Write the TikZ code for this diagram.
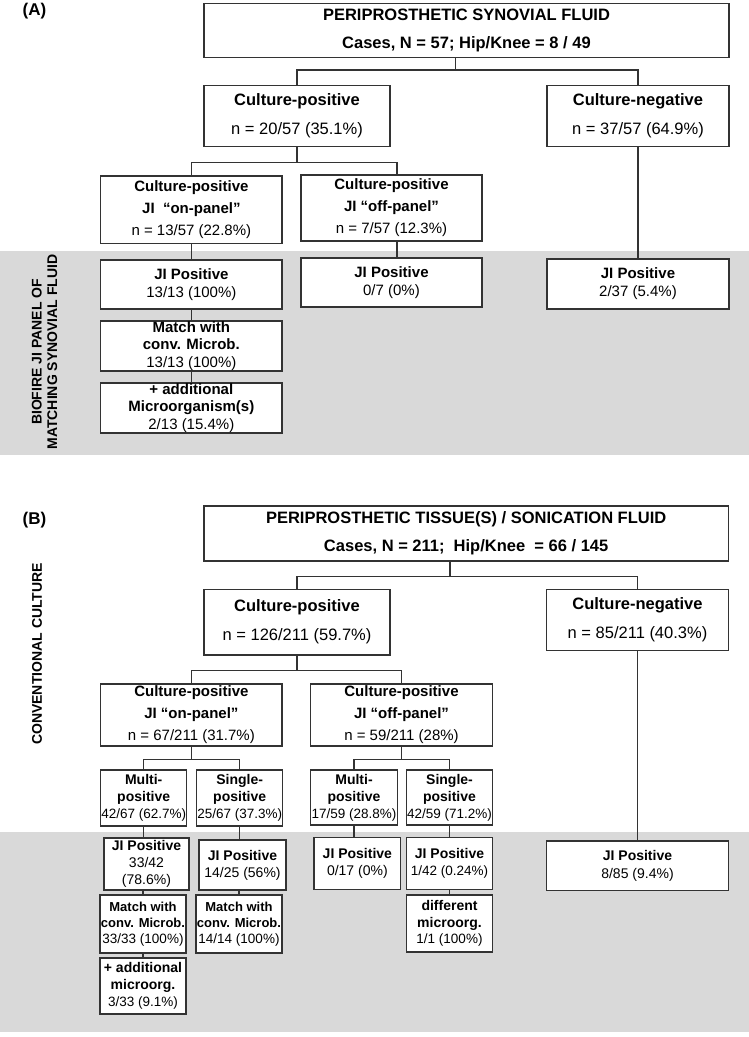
\documentclass[tikz,border=0pt]{standalone}
\usepackage{fontspec}
\setmainfont{Liberation Sans}
\usetikzlibrary{calc}
\definecolor{linec}{HTML}{333333}
\definecolor{band}{HTML}{D9D9D9}
\newcommand\myfs[2]{\fontsize{#1}{#2}\selectfont}
\begin{document}
\begin{tikzpicture}[x=1pt,y=-1pt,
 bx/.style={draw=linec, line width=1.5pt, fill=white, inner sep=0pt, align=center},
 cn/.style={draw=linec, line width=1.5pt},
 lbl/.style={font=\bfseries\myfs{14}{15.5}, align=center, rotate=90, inner sep=0pt},
 pan/.style={font=\bfseries\myfs{17}{20}, inner sep=0pt}]
\useasboundingbox (0,0) rectangle (749,1037);
\fill[band] (0,251) rectangle (749,455);
\fill[band] (0,832) rectangle (749,1032);

% ---------- Panel A ----------
\node[pan] (pa) at (34.5,11) {(A)};
\node[lbl] (la) at (44.5,352) {BIOFIRE JI PANEL OF\\MATCHING SYNOVIAL FLUID};

\node[bx, minimum width=525, minimum height=54, font=\bfseries\myfs{16.5}{28}] (ta) at (466.5,30.3)
 {PERIPROSTHETIC SYNOVIAL FLUID\\Cases, N = 57; Hip/Knee = 8 / 49};
\node[bx, minimum width=186, minimum height=61.4, font=\myfs{16.5}{29}] (cpa) at (297,116)
 {\textbf{Culture-positive}\\n = 20/57 (35.1\%)};
\node[bx, minimum width=182, minimum height=61.4, font=\myfs{16.5}{29}] (cna) at (638,116)
 {\textbf{Culture-negative}\\n = 37/57 (64.9\%)};
\node[bx, minimum width=181.3, minimum height=67.3, font=\myfs{15}{22}] (ona) at (191.35,209.65)
 {\textbf{Culture-positive}\\\textbf{JI\ \ “on-panel”}\\n = 13/57 (22.8\%)};
\node[bx, minimum width=181, minimum height=66, font=\myfs{15}{22}] (ofa) at (391.5,208)
 {\textbf{Culture-positive}\\\textbf{JI “off-panel”}\\n = 7/57 (12.3\%)};
\node[bx, minimum width=181.3, minimum height=49, font=\myfs{15}{18}] (ja1) at (191.35,284.5)
 {\textbf{JI Positive}\\13/13 (100\%)};
\node[bx, minimum width=181, minimum height=49, font=\myfs{15}{18}] (ja2) at (391.5,282.5)
 {\textbf{JI Positive}\\0/7 (0\%)};
\node[bx, minimum width=182, minimum height=50, font=\myfs{15}{18}] (ja3) at (638,284)
 {\textbf{JI Positive}\\2/37 (5.4\%)};
\node[bx, minimum width=181.3, minimum height=50, font=\myfs{15}{17.5}] (ma) at (191.35,346)
 {\textbf{Match with}\\\textbf{conv. Microb.}\\13/13 (100\%)};
\node[bx, minimum width=181.3, minimum height=50, font=\myfs{15}{17.5}] (aa) at (191.35,408)
 {\textbf{+ additional}\\\textbf{Microorganism(s)}\\2/13 (15.4\%)};

\draw[cn] ($(ta.south)+(-11,0)$) -- ++(0,12) -| (cpa.north);
\draw[cn] ($(ta.south)+(-11,12)$) -| (cna.north);
\draw[cn] (cpa.south) -- ++(0,15) -| (ona.north);
\draw[cn] ($(cpa.south)+(0,15)$) -| ($(ofa.north)+(5.5,0)$);
\draw[cn] (ona.south) -- (ja1.north);
\draw[cn] ($(ofa.south)+(5.5,0)$) -- ($(ja2.north)+(5.5,0)$);
\draw[cn] (cna.south) -- (ja3.north);
\draw[cn] (ja1.south) -- (ma.north);
\draw[cn] (ma.south) -- (aa.north);

% ---------- Panel B ----------
\node[pan] (pb) at (34.5,520) {(B)};
\node[lbl] (lb) at (37,654) {CONVENTIONAL CULTURE};

\node[bx, minimum width=524.3, minimum height=55, font=\bfseries\myfs{16.5}{28}] (tb) at (466.15,533.5)
 {PERIPROSTHETIC TISSUE(S) / SONICATION FLUID\\Cases, N = 211;\ \ Hip/Knee\ \ = 66 / 145};
\node[bx, minimum width=186, minimum height=65.7, font=\myfs{16.5}{29}] (cpb) at (297,622.15)
 {\textbf{Culture-positive}\\n = 126/211 (59.7\%)};
\node[bx, minimum width=181.6, minimum height=61.4, font=\myfs{16.5}{29}] (cnb) at (637.5,620)
 {\textbf{Culture-negative}\\n = 85/211 (40.3\%)};
\node[bx, minimum width=181.3, minimum height=62, font=\myfs{15}{22}] (onb) at (191.35,715)
 {\textbf{Culture-positive}\\\textbf{JI “on-panel”}\\n = 67/211 (31.7\%)};
\node[bx, minimum width=181.6, minimum height=62, font=\myfs{15}{22}] (ofb) at (401.5,715)
 {\textbf{Culture-positive}\\\textbf{JI “off-panel”}\\n = 59/211 (28\%)};

\node[bx, minimum width=86, minimum height=56, font=\myfs{14}{17}] (mub) at (143.7,798)
 {\textbf{Multi-}\\\textbf{positive}\\{\myfs{13.5}{17}42/67 (62.7\%)}};
\node[bx, minimum width=86, minimum height=56, font=\myfs{14}{17}] (sib) at (239.7,798)
 {\textbf{Single-}\\\textbf{positive}\\{\myfs{13.5}{17}25/67 (37.3\%)}};
\node[bx, minimum width=86.6, minimum height=55, font=\myfs{14}{17}] (mob) at (354,797.5)
 {\textbf{Multi-}\\\textbf{positive}\\{\myfs{13.5}{17}17/59 (28.8\%)}};
\node[bx, minimum width=85.6, minimum height=55, font=\myfs{14}{17}] (sob) at (449.5,797.5)
 {\textbf{Single-}\\\textbf{positive}\\{\myfs{13.5}{17}42/59 (71.2\%)}};

\node[bx, minimum width=85, minimum height=52, font=\myfs{14}{17}] (j1b) at (146.5,864)
 {\textbf{JI Positive}\\33/42\\(78.6\%)};
\node[bx, minimum width=87, minimum height=50, font=\myfs{14}{17}] (j2b) at (242.5,865)
 {\textbf{JI Positive}\\14/25 (56\%)};
\node[bx, minimum width=86.7, minimum height=51.6, font=\myfs{14}{17}] (j3b) at (357.35,863.5)
 {\textbf{JI Positive}\\0/17 (0\%)};
\node[bx, minimum width=85.6, minimum height=51.6, font=\myfs{14}{17}] (j4b) at (449.5,863.5)
 {\textbf{JI Positive}\\{\myfs{13.5}{17}1/42 (0.24\%)}};
\node[bx, minimum width=181.6, minimum height=49.7, font=\myfs{14}{18}] (j5b) at (637.5,865.85)
 {\textbf{JI Positive}\\8/85 (9.4\%)};

\node[bx, minimum width=86, minimum height=58, font=\myfs{13}{16}] (m1b) at (143,924)
 {\textbf{Match with}\\\textbf{conv. Microb.}\\{\myfs{13.5}{16}33/33 (100\%)}};
\node[bx, minimum width=86, minimum height=58, font=\myfs{13}{16}] (m2b) at (239,924)
 {\textbf{Match with}\\\textbf{conv. Microb.}\\{\myfs{13.5}{16}14/14 (100\%)}};
\node[bx, minimum width=85.6, minimum height=57, font=\myfs{14}{16.5}] (dfb) at (449.5,923.5)
 {\textbf{different}\\\textbf{microorg.}\\{\myfs{13.5}{16.5}1/1 (100\%)}};
\node[bx, minimum width=86, minimum height=56, font=\myfs{14}{17}] (adb) at (143,986)
 {\textbf{+ additional}\\\textbf{microorg.}\\{\myfs{13.5}{17}3/33 (9.1\%)}};

\draw[cn] ($(tb.south)+(-16,0)$) -- ++(0,14.7) -| (cpb.north);
\draw[cn] ($(tb.south)+(-16,14.7)$) -| (cnb.north);
\draw[cn] (cpb.south) -- ++(0,14.5) -| (onb.north);
\draw[cn] ($(cpb.south)+(0,14.5)$) -| (ofb.north);
\draw[cn] (onb.south) -- ++(0,12.7) -| (mub.north);
\draw[cn] ($(onb.south)+(0,12.7)$) -| (sib.north);
\draw[cn] (ofb.south) -- ++(0,12.7) -| (mob.north);
\draw[cn] ($(ofb.south)+(0,12.7)$) -| (sob.north);
\draw[cn] (mub.south) -- (mub.south |- j1b.north);
\draw[cn] (sib.south) -- (sib.south |- j2b.north);
\draw[cn] (mob.south) -- (mob.south |- j3b.north);
\draw[cn] (sob.south) -- (j4b.north);
\draw[cn] (m1b.north |- j1b.south) -- (m1b.north);
\draw[cn] (m2b.north |- j2b.south) -- (m2b.north);
\draw[cn] (j4b.south) -- (dfb.north);
\draw[cn] (m1b.south) -- (adb.north);
\draw[cn] (cnb.south) -- (j5b.north);
\end{tikzpicture}
\end{document}
